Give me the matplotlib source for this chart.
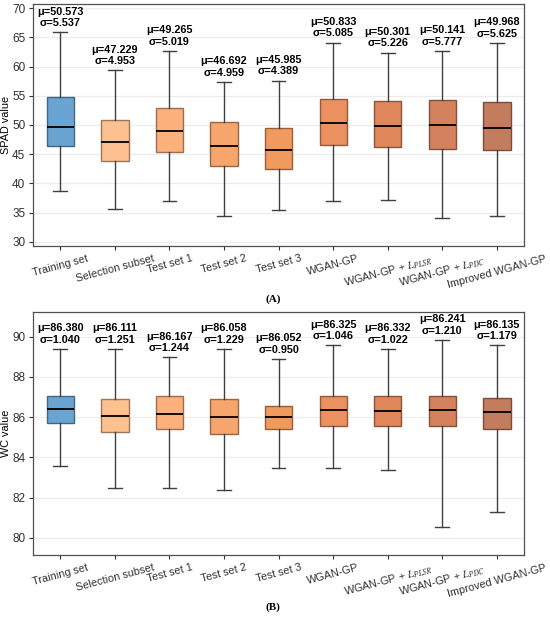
import numpy as np
import matplotlib
matplotlib.use("Agg")
import matplotlib.pyplot as plt
from matplotlib import colors as mcolors

plt.rcParams['font.family'] = ['Liberation Sans', 'DejaVu Sans']
plt.rcParams['mathtext.fontset'] = 'stix'
plt.rcParams['font.size'] = 7.8

groups = ['Training set', 'Selection subset', 'Test set 1', 'Test set 2', 'Test set 3',
          'WGAN-GP', r'WGAN-GP + $L_{PLSR}$', r'WGAN-GP + $L_{PDC}$', 'Improved WGAN-GP']
box_colors = ['#6aa4d2', '#fdc08f', '#fcb17c', '#f6a56c', '#f09a5e',
              '#eb905f', '#e0885b', '#d4825d', '#c47c5e']

# (A) SPAD
spad_whislo = [38.7, 35.7, 37.0, 34.5, 35.5, 36.95, 37.13, 34.05, 34.5]
spad_q1 = [46.46, 43.8, 45.44, 43.0, 42.5, 46.63, 46.19, 45.95, 45.73]
spad_med = [49.6, 47.04, 48.97, 46.36, 45.68, 50.29, 49.83, 49.95, 49.49]
spad_q3 = [54.73, 50.8, 52.9, 50.46, 49.4, 54.45, 54.16, 54.22, 53.93]
spad_whishi = [65.85, 59.35, 62.65, 57.35, 57.6, 64.1, 62.37, 62.7, 64.07]
spad_mean = ['50.573', '47.229', '49.265', '46.692', '45.985', '50.833', '50.301', '50.141', '49.968']
spad_std = ['5.537', '4.953', '5.019', '4.959', '4.389', '5.085', '5.226', '5.777', '5.625']

# (B) WC
wc_whislo = [83.58, 82.49, 82.49, 82.39, 83.48, 83.45, 83.35, 80.53, 81.29]
wc_q1 = [85.69, 85.27, 85.39, 85.17, 85.39, 85.56, 85.57, 85.54, 85.39]
wc_med = [86.39, 86.07, 86.17, 85.99, 86.0, 86.35, 86.32, 86.35, 86.24]
wc_q3 = [87.07, 86.88, 87.07, 86.88, 86.57, 87.07, 87.05, 87.03, 86.95]
wc_whishi = [89.39, 89.39, 88.97, 89.39, 88.89, 89.57, 89.39, 89.84, 89.57]
wc_mean = ['86.380', '86.111', '86.167', '86.058', '86.052', '86.325', '86.332', '86.241', '86.135']
wc_std = ['1.040', '1.251', '1.244', '1.229', '0.950', '1.046', '1.022', '1.210', '1.179']


def draw_panel(ax, whislo, q1, med, q3, whishi, means, stds, ylabel, ylim, yticks):
    stats = []
    for i in range(len(groups)):
        stats.append(dict(whislo=whislo[i], q1=q1[i], med=med[i], q3=q3[i],
                          whishi=whishi[i], fliers=[]))
    pos = np.arange(1, len(groups) + 1)
    bp = ax.bxp(stats, positions=pos, widths=0.5, patch_artist=True, showfliers=False,
                whiskerprops=dict(color='#404040', lw=1.0),
                capprops=dict(color='#404040', lw=1.0),
                medianprops=dict(color='black', lw=1.3))
    for patch, c in zip(bp['boxes'], box_colors):
        rgb = np.array(mcolors.to_rgb(c))
        patch.set_facecolor(c)
        patch.set_edgecolor(rgb * 0.62)
        patch.set_linewidth(1.0)
    for i in range(len(groups)):
        ax.annotate(f'μ={means[i]}\nσ={stds[i]}', xy=(pos[i], whishi[i]),
                    xytext=(0, 3), textcoords='offset points',
                    ha='center', va='bottom', fontweight='bold', fontsize=7.8)
    ax.set_xlim(0.5, len(groups) + 0.5)
    ax.set_ylim(*ylim)
    ax.set_yticks(yticks)
    ax.set_xticks(pos)
    ax.set_xticklabels(groups, rotation=15, ha='center')
    ax.set_ylabel(ylabel, labelpad=1)
    ax.yaxis.grid(True, color='#ececec', lw=0.8)
    ax.set_axisbelow(True)
    for s in ['top', 'bottom', 'left', 'right']:
        ax.spines[s].set_color('#505050')
        ax.spines[s].set_linewidth(0.9)
    ax.tick_params(colors='#303030', length=3, width=0.8, pad=2.5)
    ax.tick_params(axis='y', labelsize=8.5)


fig = plt.figure(figsize=(5.5, 6.19), dpi=100)
ax1 = fig.add_axes([0.06, 0.6026, 0.893, 0.391])
ax2 = fig.add_axes([0.06, 0.1034, 0.893, 0.3926])

draw_panel(ax1, spad_whislo, spad_q1, spad_med, spad_q3, spad_whishi, spad_mean, spad_std,
           'SPAD value', (29.3, 70.7), np.arange(30, 71, 5))
draw_panel(ax2, wc_whislo, wc_q1, wc_med, wc_q3, wc_whishi, wc_mean, wc_std,
           'WC value', (79.14, 91.23), np.arange(80, 91, 2))

fig.text(0.497, 1 - 299 / 619, '(A)', ha='center', va='center',
         family='Liberation Serif', fontsize=8, fontweight='bold')
fig.text(0.497, 1 - 607 / 619, '(B)', ha='center', va='center',
         family='Liberation Serif', fontsize=8, fontweight='bold')

fig.savefig('out.png', dpi=100)
